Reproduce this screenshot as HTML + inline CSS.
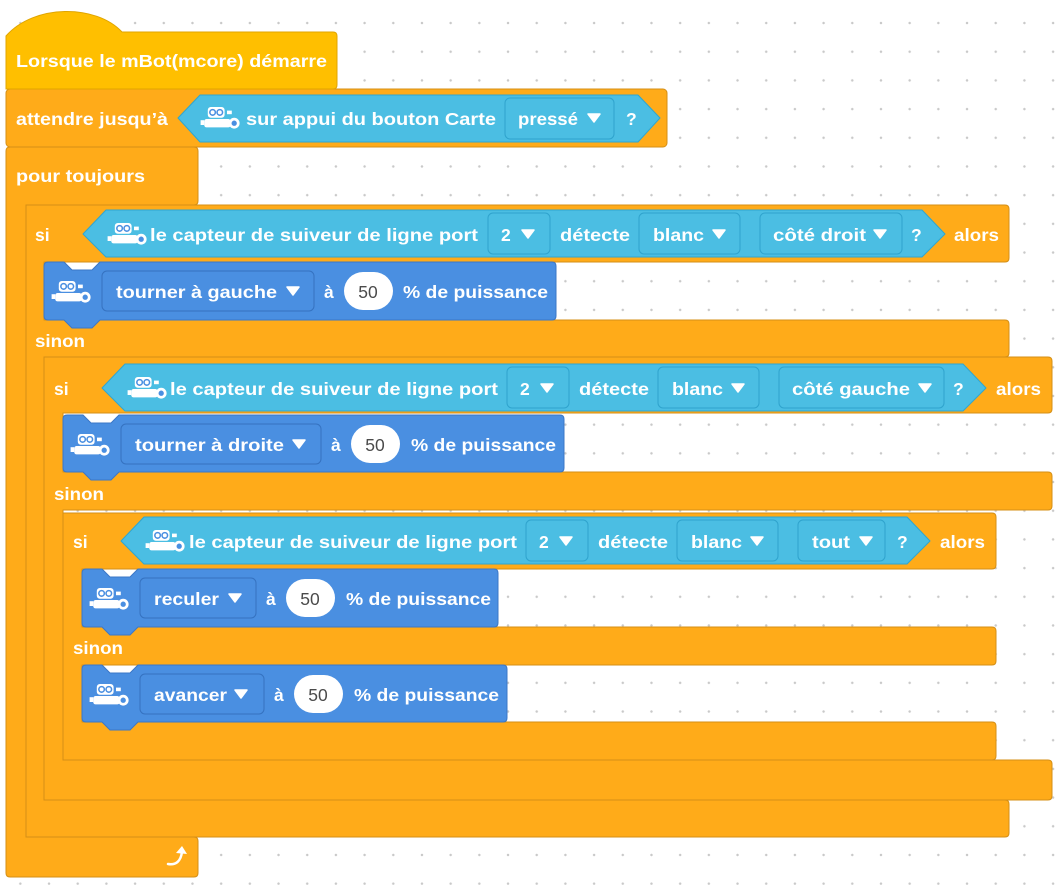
<!DOCTYPE html>
<html><head><meta charset="utf-8"><style>
html,body{margin:0;padding:0;}
body{width:1058px;height:885px;overflow:hidden;background-color:#fff;
background-image:radial-gradient(circle,#c9c9c9 1.1px,transparent 1.4px);
background-size:28.7px 28.7px;background-position:6px 8.7px;}
svg{position:absolute;left:0;top:0;}
text{font-family:"Liberation Sans",sans-serif;font-weight:bold;font-size:17.5px;fill:#fff;}
.o{fill:#FFAB19;stroke:#D48F16;stroke-width:1;stroke-linejoin:round;}
.b{fill:#4A8FE1;stroke:#3B77C6;stroke-width:1;stroke-linejoin:round;}
.c{fill:#4BBEE3;stroke:#2FA6D0;stroke-width:1;stroke-linejoin:round;}
.d{fill:#4BBEE3;stroke:#2FA3CD;stroke-width:1;}
.bd{fill:#4A8FE1;stroke:#3572C0;stroke-width:1;}
.dk{fill:#4b4b4b;font-weight:normal;}
</style></head><body>
<svg width="1058" height="885" viewBox="0 0 1058 885">
<defs>
<g id="bot0">
<rect x="4" y="0" width="14" height="9" rx="2.5" fill="#fff"/>
<circle cx="8" cy="4.5" r="2.3" fill="none" stroke="#4A8FE1" stroke-width="1.3"/>
<circle cx="14" cy="4.5" r="2.3" fill="none" stroke="#4A8FE1" stroke-width="1.3"/>
<rect x="1" y="10" width="22" height="7" rx="2" fill="#fff"/>
<rect x="-2" y="11" width="3" height="4" fill="#fff"/>
<circle cx="26" cy="13.5" r="4.5" fill="#fff"/>
<circle cx="26" cy="13.5" r="2.2" fill="#4A8FE1"/>
<rect x="20" y="3" width="4" height="3" fill="#fff"/>
</g>
<g id="bot"><use href="#bot0" transform="translate(-2,-2) scale(1.2)"/></g>
<polygon id="tri" points="-6,-4 6,-4 0,4" fill="#fff" stroke="#fff" stroke-width="1.5" stroke-linejoin="round"/>
</defs>

<path class="o" d="M10,147 H194 Q198,147 198,151 V201 Q198,205 194,205 H26 V837 H194 Q198,837 198,841 V873 Q198,877 194,877 H10 Q6,877 6,873 V151 Q6,147 10,147 Z"/>
<rect class="o" x="6" y="89" width="661" height="58" rx="4"/>
<path d="M6,89 V36 C34,4 96,4 122,32 H333 Q337,32 337,36 V85 Q337,89 333,89 Z" fill="#FFBF00" stroke="#E0A500" stroke-width="1"/>
<text x="16" y="67" textLength="311" lengthAdjust="spacingAndGlyphs">Lorsque le mBot(mcore) démarre</text>
<text x="16" y="125" textLength="152" lengthAdjust="spacingAndGlyphs">attendre jusqu’à</text>
<text x="16" y="182" textLength="129" lengthAdjust="spacingAndGlyphs">pour toujours</text>
<path d="M168,864 Q180,866 182,852" fill="none" stroke="#fff" stroke-width="2.5" stroke-linecap="round"/>
<polygon points="176,853 182,846 187,854" fill="#fff"/>

<polygon class="c" points="178,118 200,95 638,95 660,118 638,142 200,142"/>
<use href="#bot" x="205" y="109"/>
<text x="246" y="125" textLength="250" lengthAdjust="spacingAndGlyphs">sur appui du bouton Carte</text>
<rect class="d" x="505" y="98" width="109" height="41" rx="5"/>
<text x="518" y="125" textLength="60" lengthAdjust="spacingAndGlyphs">pressé</text>
<use href="#tri" x="594" y="118"/>
<text x="626" y="125">?</text>

<path class="o" d="M30,205 H1005 Q1009,205 1009,209 V258 Q1009,262 1005,262 H44 V320 H1005 Q1009,320 1009,324 V353 Q1009,357 1005,357 H44 V800 H1005 Q1009,800 1009,804 V833 Q1009,837 1005,837 H26 V205 Z"/>
<text x="35" y="241">si</text>
<text x="35" y="347" textLength="50" lengthAdjust="spacingAndGlyphs">sinon</text>
<text x="954" y="241" textLength="45" lengthAdjust="spacingAndGlyphs">alors</text>
<polygon class="c" points="83,234 106,210 922,210 945,234 922,257 106,257"/>
<use href="#bot" x="112" y="225"/>
<text x="150" y="241" textLength="328" lengthAdjust="spacingAndGlyphs">le capteur de suiveur de ligne port</text>
<rect class="d" x="488" y="213" width="62" height="41" rx="5"/>
<text x="501" y="241">2</text><use href="#tri" x="528" y="234"/>
<text x="560" y="241" textLength="70" lengthAdjust="spacingAndGlyphs">détecte</text>
<rect class="d" x="639" y="213" width="101" height="41" rx="5"/>
<text x="653" y="241" textLength="51" lengthAdjust="spacingAndGlyphs">blanc</text><use href="#tri" x="719" y="234"/>
<rect class="d" x="760" y="213" width="142" height="41" rx="5"/>
<text x="773" y="241" textLength="93" lengthAdjust="spacingAndGlyphs">côté droit</text><use href="#tri" x="880" y="234"/>
<text x="911" y="241">?</text>

<path class="b" d="M48,262 H64 L72,270 H92 L100,262 H552 Q556,262 556,266 V316 Q556,320 552,320 H100 L92,328 H72 L64,320 H48 Q44,320 44,316 V266 Q44,262 48,262 Z"/>
<use href="#bot" x="56" y="283"/>
<rect class="bd" x="102" y="271" width="212" height="40" rx="5"/>
<text x="116" y="298" textLength="161" lengthAdjust="spacingAndGlyphs">tourner à gauche</text><use href="#tri" x="293" y="291"/>
<text x="324" y="298">à</text>
<rect x="344" y="272" width="49" height="38" rx="19" fill="#fff"/>
<text class="dk" x="368" y="298" text-anchor="middle">50</text>
<text x="403" y="298" textLength="145" lengthAdjust="spacingAndGlyphs">% de puissance</text>

<path class="o" d="M48,357 H1048 Q1052,357 1052,361 V409 Q1052,413 1048,413 H63 V472 H1048 Q1052,472 1052,476 V506 Q1052,510 1048,510 H63 V760 H1048 Q1052,760 1052,764 V796 Q1052,800 1048,800 H44 V357 Z"/>
<text x="54" y="395">si</text>
<text x="54" y="500" textLength="50" lengthAdjust="spacingAndGlyphs">sinon</text>
<text x="996" y="395" textLength="45" lengthAdjust="spacingAndGlyphs">alors</text>
<polygon class="c" points="102,388 125,364 963,364 986,388 963,411 125,411"/>
<use href="#bot" x="132" y="379"/>
<text x="170" y="395" textLength="328" lengthAdjust="spacingAndGlyphs">le capteur de suiveur de ligne port</text>
<rect class="d" x="507" y="367" width="62" height="41" rx="5"/>
<text x="520" y="395">2</text><use href="#tri" x="547" y="388"/>
<text x="579" y="395" textLength="70" lengthAdjust="spacingAndGlyphs">détecte</text>
<rect class="d" x="658" y="367" width="101" height="41" rx="5"/>
<text x="672" y="395" textLength="51" lengthAdjust="spacingAndGlyphs">blanc</text><use href="#tri" x="738" y="388"/>
<rect class="d" x="779" y="367" width="165" height="41" rx="5"/>
<text x="792" y="395" textLength="118" lengthAdjust="spacingAndGlyphs">côté gauche</text><use href="#tri" x="925" y="388"/>
<text x="953" y="395">?</text>

<path class="b" d="M67,415 H83 L91,423 H111 L119,415 H560 Q564,415 564,419 V468 Q564,472 560,472 H119 L111,480 H91 L83,472 H67 Q63,472 63,468 V419 Q63,415 67,415 Z"/>
<use href="#bot" x="75" y="436"/>
<rect class="bd" x="121" y="424" width="200" height="40" rx="5"/>
<text x="135" y="451" textLength="149" lengthAdjust="spacingAndGlyphs">tourner à droite</text><use href="#tri" x="299" y="444"/>
<text x="331" y="451">à</text>
<rect x="351" y="425" width="49" height="38" rx="19" fill="#fff"/>
<text class="dk" x="375" y="451" text-anchor="middle">50</text>
<text x="411" y="451" textLength="145" lengthAdjust="spacingAndGlyphs">% de puissance</text>

<path class="o" d="M67,513 H992 Q996,513 996,517 V565 Q996,569 992,569 H82 V627 H992 Q996,627 996,631 V661 Q996,665 992,665 H82 V722 H992 Q996,722 996,726 V756 Q996,760 992,760 H63 V513 Z"/>
<text x="73" y="548">si</text>
<text x="73" y="654" textLength="50" lengthAdjust="spacingAndGlyphs">sinon</text>
<text x="940" y="548" textLength="45" lengthAdjust="spacingAndGlyphs">alors</text>
<polygon class="c" points="121,541 144,517 907,517 930,541 907,564 144,564"/>
<use href="#bot" x="150" y="532"/>
<text x="189" y="548" textLength="328" lengthAdjust="spacingAndGlyphs">le capteur de suiveur de ligne port</text>
<rect class="d" x="526" y="520" width="62" height="41" rx="5"/>
<text x="539" y="548">2</text><use href="#tri" x="566" y="541"/>
<text x="598" y="548" textLength="70" lengthAdjust="spacingAndGlyphs">détecte</text>
<rect class="d" x="677" y="520" width="101" height="41" rx="5"/>
<text x="691" y="548" textLength="51" lengthAdjust="spacingAndGlyphs">blanc</text><use href="#tri" x="757" y="541"/>
<rect class="d" x="798" y="520" width="87" height="41" rx="5"/>
<text x="812" y="548" textLength="38" lengthAdjust="spacingAndGlyphs">tout</text><use href="#tri" x="866" y="541"/>
<text x="897" y="548">?</text>

<path class="b" d="M86,569 H102 L110,577 H130 L138,569 H494 Q498,569 498,573 V623 Q498,627 494,627 H138 L130,635 H110 L102,627 H86 Q82,627 82,623 V573 Q82,569 86,569 Z"/>
<use href="#bot" x="94" y="590"/>
<rect class="bd" x="140" y="578" width="116" height="40" rx="5"/>
<text x="154" y="605" textLength="65" lengthAdjust="spacingAndGlyphs">reculer</text><use href="#tri" x="235" y="598"/>
<text x="266" y="605">à</text>
<rect x="286" y="579" width="49" height="38" rx="19" fill="#fff"/>
<text class="dk" x="310" y="605" text-anchor="middle">50</text>
<text x="346" y="605" textLength="145" lengthAdjust="spacingAndGlyphs">% de puissance</text>

<path class="b" d="M86,665 H102 L110,673 H130 L138,665 H503 Q507,665 507,669 V718 Q507,722 503,722 H138 L130,730 H110 L102,722 H86 Q82,722 82,718 V669 Q82,665 86,665 Z"/>
<use href="#bot" x="94" y="686"/>
<rect class="bd" x="140" y="674" width="124" height="40" rx="5"/>
<text x="154" y="701" textLength="73" lengthAdjust="spacingAndGlyphs">avancer</text><use href="#tri" x="241" y="694"/>
<text x="274" y="701">à</text>
<rect x="294" y="675" width="49" height="38" rx="19" fill="#fff"/>
<text class="dk" x="318" y="701" text-anchor="middle">50</text>
<text x="354" y="701" textLength="145" lengthAdjust="spacingAndGlyphs">% de puissance</text>
</svg>
</body></html>
